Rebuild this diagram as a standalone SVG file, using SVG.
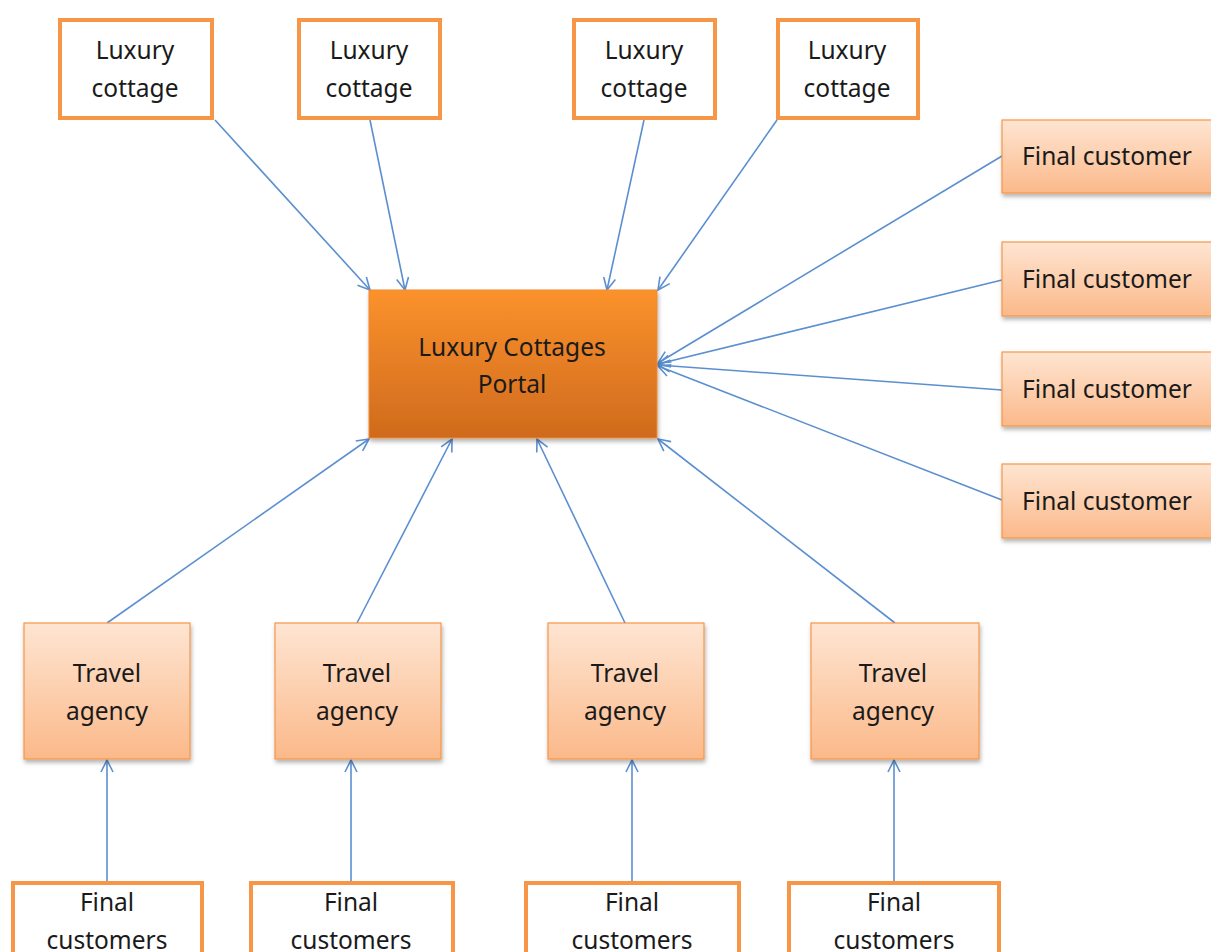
<svg xmlns="http://www.w3.org/2000/svg" width="1211" height="952" viewBox="0 0 1211 952">
  <style>
    .t { font-family: "Noto Sans", "Open Sans", sans-serif; font-size: 24.5px; fill: #1a1a1a; text-anchor: middle; }
    .outline { fill: #ffffff; stroke: #f79646; stroke-width: 4; }
    .peach { fill: url(#peach); stroke: #f79646; stroke-width: 1.2; filter: url(#shadow); }
    .portal { fill: url(#orange); stroke: #f08a30; stroke-width: 1; filter: url(#shadow); }
    .conn line { stroke: #5b8fd0; stroke-width: 1.6; fill: none; marker-end: url(#arrow); }
  </style>
  <defs>
    <linearGradient id="peach" x1="0" y1="0" x2="0" y2="1">
      <stop offset="0" stop-color="#fee5d2"/>
      <stop offset="1" stop-color="#fbb98a"/>
    </linearGradient>
    <linearGradient id="orange" x1="0" y1="0" x2="0" y2="1">
      <stop offset="0" stop-color="#fb922c"/>
      <stop offset="1" stop-color="#cf6a1d"/>
    </linearGradient>
    <filter id="shadow" x="-10%" y="-10%" width="125%" height="130%">
      <feDropShadow dx="1" dy="3" stdDeviation="2" flood-color="#000" flood-opacity="0.3"/>
    </filter>
    <marker id="arrow" viewBox="0 0 14 14" refX="13" refY="7" markerWidth="14" markerHeight="14" markerUnits="userSpaceOnUse" orient="auto">
      <path d="M1,1 L13,7 L1,13" fill="none" stroke="#5b8fd0" stroke-width="1.6"/>
    </marker>
  </defs>
  <rect width="1211" height="952" fill="#ffffff"/>

  <!-- connectors -->
  <g id="connectors" class="conn">
    <line x1="215" y1="120" x2="370" y2="290"/>
    <line x1="370" y1="120" x2="405" y2="290"/>
    <line x1="644" y1="120" x2="607" y2="290"/>
    <line x1="777" y1="120" x2="658" y2="290"/>
    <line x1="1002" y1="156" x2="658" y2="363"/>
    <line x1="1002" y1="280" x2="658" y2="364"/>
    <line x1="1002" y1="390" x2="658" y2="365"/>
    <line x1="1002" y1="500" x2="658" y2="366"/>
    <line x1="107" y1="623" x2="369" y2="439"/>
    <line x1="357" y1="623" x2="452" y2="439"/>
    <line x1="625" y1="623" x2="537" y2="439"/>
    <line x1="895" y1="623" x2="658" y2="439"/>
    <line x1="107" y1="882" x2="107" y2="760"/>
    <line x1="351" y1="882" x2="351" y2="760"/>
    <line x1="632" y1="882" x2="632" y2="760"/>
    <line x1="894" y1="882" x2="894" y2="760"/>
  </g>

  <!-- luxury cottages -->
  <g id="cottage1"><rect class="outline" x="60" y="20" width="152" height="98"/><text class="t" x="135" y="59">Luxury</text><text class="t" x="135" y="97">cottage</text></g>
  <g id="cottage2"><rect class="outline" x="299" y="20" width="141" height="98"/><text class="t" x="369" y="59">Luxury</text><text class="t" x="369" y="97">cottage</text></g>
  <g id="cottage3"><rect class="outline" x="574" y="20" width="141" height="98"/><text class="t" x="644" y="59">Luxury</text><text class="t" x="644" y="97">cottage</text></g>
  <g id="cottage4"><rect class="outline" x="778" y="20" width="140" height="98"/><text class="t" x="847" y="59">Luxury</text><text class="t" x="847" y="97">cottage</text></g>

  <!-- portal -->
  <g id="portal"><rect class="portal" x="369" y="290" width="288" height="148"/><text class="t" x="512" y="356">Luxury Cottages</text><text class="t" x="512" y="393">Portal</text></g>

  <!-- direct final customers -->
  <g id="customer1"><rect class="peach" x="1002" y="120" width="215" height="73"/><text class="t" x="1107" y="165">Final customer</text></g>
  <g id="customer2"><rect class="peach" x="1002" y="242" width="215" height="74"/><text class="t" x="1107" y="288">Final customer</text></g>
  <g id="customer3"><rect class="peach" x="1002" y="352" width="215" height="74"/><text class="t" x="1107" y="398">Final customer</text></g>
  <g id="customer4"><rect class="peach" x="1002" y="464" width="215" height="74"/><text class="t" x="1107" y="510">Final customer</text></g>

  <!-- travel agencies -->
  <g id="agency1"><rect class="peach" x="24" y="623" width="166" height="136"/><text class="t" x="107" y="682">Travel</text><text class="t" x="107" y="720">agency</text></g>
  <g id="agency2"><rect class="peach" x="275" y="623" width="166" height="136"/><text class="t" x="357" y="682">Travel</text><text class="t" x="357" y="720">agency</text></g>
  <g id="agency3"><rect class="peach" x="548" y="623" width="156" height="136"/><text class="t" x="625" y="682">Travel</text><text class="t" x="625" y="720">agency</text></g>
  <g id="agency4"><rect class="peach" x="811" y="623" width="168" height="136"/><text class="t" x="893" y="682">Travel</text><text class="t" x="893" y="720">agency</text></g>

  <!-- final customers via agencies -->
  <g id="customers1"><rect class="outline" x="13" y="883" width="189" height="80"/><text class="t" x="107" y="911">Final</text><text class="t" x="107" y="949">customers</text></g>
  <g id="customers2"><rect class="outline" x="251" y="883" width="202" height="80"/><text class="t" x="351" y="911">Final</text><text class="t" x="351" y="949">customers</text></g>
  <g id="customers3"><rect class="outline" x="526" y="883" width="213" height="80"/><text class="t" x="632" y="911">Final</text><text class="t" x="632" y="949">customers</text></g>
  <g id="customers4"><rect class="outline" x="789" y="883" width="210" height="80"/><text class="t" x="894" y="911">Final</text><text class="t" x="894" y="949">customers</text></g>
</svg>
